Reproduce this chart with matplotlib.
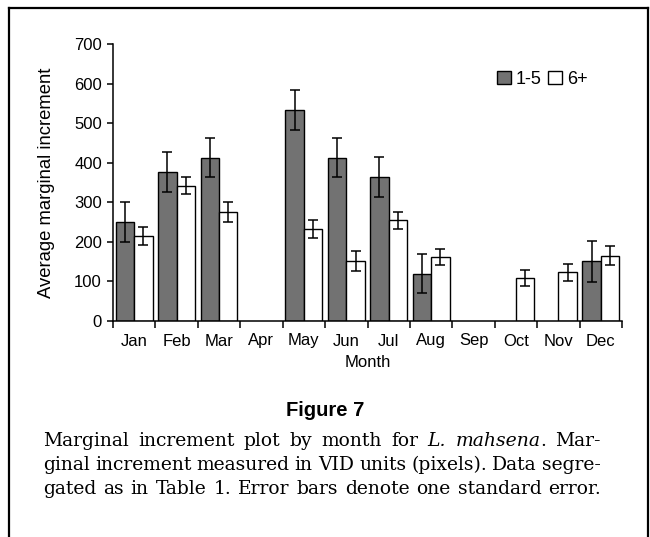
import numpy as np
import matplotlib
matplotlib.use("Agg")
import matplotlib.pyplot as plt
from matplotlib.lines import Line2D
from matplotlib.patches import Patch

plt.rcParams["font.family"] = ["Liberation Sans", "DejaVu Sans"]

months = ["Jan", "Feb", "Mar", "Apr", "May", "Jun", "Jul", "Aug", "Sep", "Oct", "Nov", "Dec"]
young = [250, 377, 413, np.nan, 533, 413, 364, 120, np.nan, np.nan, np.nan, 151]
young_se = [50, 50, 50, np.nan, 50, 50, 50, 50, np.nan, np.nan, np.nan, 52]
old = [215, 342, 275, np.nan, 232, 152, 254, 162, np.nan, 109, 123, 165]
old_se = [22, 22, 25, np.nan, 22, 25, 22, 21, np.nan, 21, 21, 24]

W, H = 650, 537
fig = plt.figure(figsize=(6.5, 5.37), dpi=100)
ax = fig.add_axes([113 / W, 1 - 321 / H, (622 - 113) / W, (321 - 44) / H])

x = np.arange(len(months))
bw = 0.435
dark = "#727272"
ax.bar(x - bw / 2, young, bw, color=dark, edgecolor="black", linewidth=1.0, zorder=2, label="1-5")
ax.bar(x + bw / 2, old, bw, color="white", edgecolor="black", linewidth=1.0, zorder=2, label="6+")
ax.errorbar(x - bw / 2, young, yerr=young_se, fmt="none", ecolor="black", elinewidth=1.1, capsize=3.8, capthick=1.1, zorder=3)
ax.errorbar(x + bw / 2, old, yerr=old_se, fmt="none", ecolor="black", elinewidth=1.1, capsize=3.8, capthick=1.1, zorder=3)

ax.set_xlim(-0.5, len(months) - 0.5)
ax.set_ylim(0, 700)
ax.set_yticks(np.arange(0, 701, 100))
ax.set_xticks(x)
ax.set_xticklabels(months)
ax.set_xticks(np.arange(-0.5, len(months), 1), minor=True)
ax.tick_params(axis="x", which="major", length=0, pad=9, labelsize=12)
ax.tick_params(axis="x", which="minor", length=5, width=1.1, direction="out")
ax.tick_params(axis="y", length=4, width=1.1, direction="out", pad=4, labelsize=12)
for s in ["top", "right"]:
    ax.spines[s].set_visible(False)
for s in ["left", "bottom"]:
    ax.spines[s].set_linewidth(1.1)
ax.set_xlabel("Month", fontsize=12, labelpad=5)
ax.set_ylabel("Average marginal increment", fontsize=13.3, labelpad=14)

handles = [Patch(facecolor=dark, edgecolor="black"), Patch(facecolor="white", edgecolor="black")]
ax.legend(handles, ["1-5", "6+"], ncol=2, frameon=False, loc="upper left",
          bbox_to_anchor=((497 - 113) / (622 - 113), 1 - (71 - 44) / (321 - 44)),
          handlelength=0.75, handleheight=0.75, handletextpad=0.3, columnspacing=0.35,
          fontsize=13, borderpad=0, borderaxespad=0)

# outer frame (open at the bottom)
lc = dict(color="black", linewidth=1.6, transform=fig.transFigure)
fig.add_artist(Line2D([9 / W, 9 / W], [0, 1 - 8 / H], **lc))
fig.add_artist(Line2D([9 / W, 648 / W], [1 - 8 / H, 1 - 8 / H], **lc))
fig.add_artist(Line2D([648 / W, 648 / W], [0, 1 - 8 / H], **lc))

fig.text(0.5, 1 - 410 / H, "Figure 7", ha="center", va="center", fontsize=14.5, fontweight="bold")

# justified caption
lines = [
    [("Marginal", "normal"), ("increment", "normal"), ("plot", "normal"), ("by", "normal"),
     ("month", "normal"), ("for", "normal"), ("L.", "italic"), ("mahsena", "italic"), (".", "normal"),
     ("Mar-", "normal")],
    [(w, "normal") for w in "ginal increment measured in VID units (pixels). Data segre-".split()],
    [(w, "normal") for w in "gated as in Table 1. Error bars denote one standard error.".split()],
]
ys = [441, 465, 489]
x0, x1 = 43, 601
renderer = fig.canvas.get_renderer()
for toks, yy in zip(lines, ys):
    arts = []
    for w, st in toks:
        t = fig.text(0, 1 - yy / H, w, ha="left", va="center", fontsize=13.5,
                     family="DejaVu Serif", fontstyle=st)
        arts.append(t)
    widths = [a.get_window_extent(renderer).width for a in arts]
    attach = [tk[0] == "." for tk in toks]
    ngaps = sum(1 for i in range(1, len(toks)) if not attach[i])
    gap = (x1 - x0 - sum(widths)) / ngaps
    cur = x0
    for i, a in enumerate(arts):
        if i > 0:
            cur += 0 if attach[i] else gap
        a.set_x(cur / W)
        cur += widths[i]

fig.savefig("out.png", dpi=100)
